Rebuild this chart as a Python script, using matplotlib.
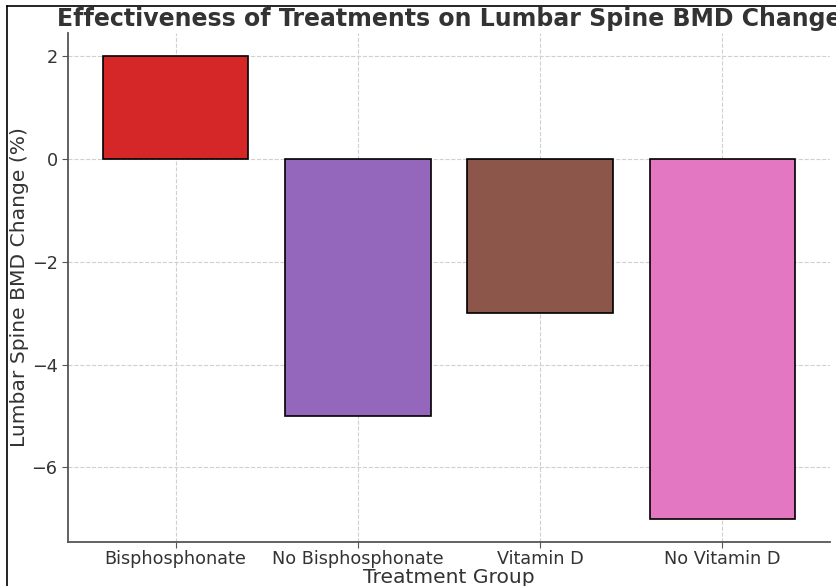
import matplotlib
matplotlib.use("Agg")
import matplotlib.pyplot as plt
from matplotlib.lines import Line2D

groups = ["Bisphosphonate", "No Bisphosphonate", "Vitamin D", "No Vitamin D"]
bmd_change = [2, -5, -3, -7]
colors = ["#d62728", "#9467bd", "#8c564b", "#e377c2"]

text_color = "#333333"
fig = plt.figure(figsize=(8.36, 5.86), dpi=100)
ax = fig.add_axes([0.0813, 0.0751, 0.9115, 0.8686])

ax.bar(groups, bmd_change, color=colors, edgecolor="black", linewidth=1.2, width=0.8, zorder=3)

ax.grid(True, linestyle="--", color="#d0d0d0", linewidth=0.8, zorder=0)
ax.set_axisbelow(True)
for side in ("top", "right"):
    ax.spines[side].set_visible(False)
for side in ("left", "bottom"):
    ax.spines[side].set_color("#555555")
    ax.spines[side].set_linewidth(1.3)

ax.tick_params(axis="both", labelsize=12.7, colors="#555555", labelcolor=text_color, length=4)
ax.tick_params(axis="x", pad=2)
ax.set_yticks([2, 0, -2, -4, -6])
ax.set_yticklabels(["2", "0", "\u22122", "\u22124", "\u22126"])

ax.set_title("Effectiveness of Treatments on Lumbar Spine BMD Change",
             fontsize=17, fontweight="bold", color=text_color, pad=5)
ax.set_xlabel("Treatment Group", fontsize=14.6, color=text_color, labelpad=0)
ax.set_ylabel("Lumbar Spine BMD Change (%)", fontsize=14.6, color=text_color, labelpad=2)

# thin frame lines along the top and left edges
fig.add_artist(Line2D([7 / 836, 7 / 836], [0, 1 - 6 / 586], transform=fig.transFigure, color="black", linewidth=1.2))
fig.add_artist(Line2D([7 / 836, 1], [1 - 6 / 586, 1 - 6 / 586], transform=fig.transFigure, color="black", linewidth=1.2))

fig.savefig("out.png", dpi=100)
